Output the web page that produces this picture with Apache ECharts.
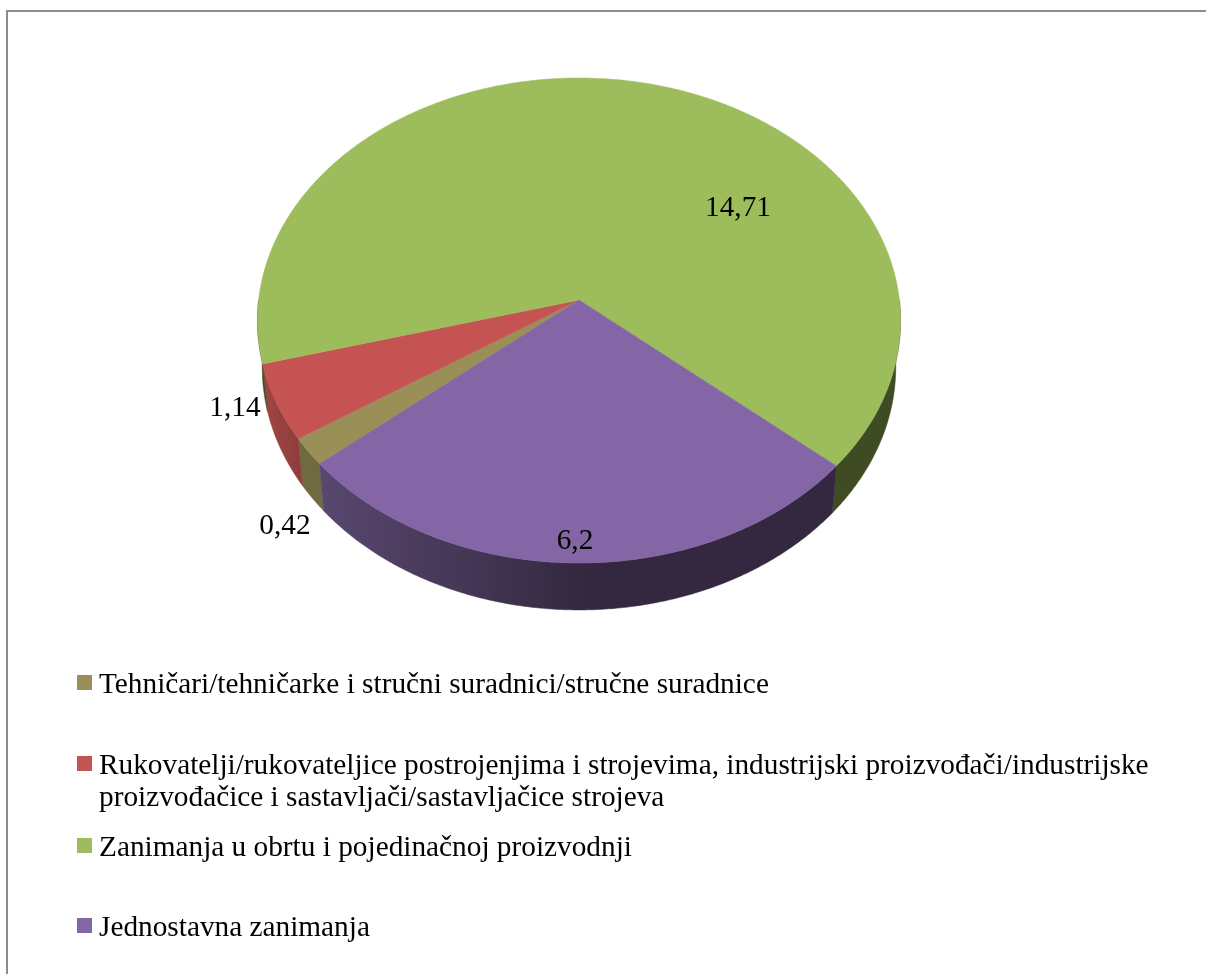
<!DOCTYPE html>
<html>
<head>
<meta charset="utf-8">
<title>Zanimanja</title>
<script src="https://cdn.jsdelivr.net/npm/echarts@6/dist/echarts.min.js"></script>
<style>
  html, body { margin: 0; padding: 0; background: #fff; }
  #chart { width: 1206px; height: 974px; }
</style>
</head>
<body>
<div id="chart"></div>
<script>
// data, in legend order (clockwise from the first slice)
const categories = [
  "Tehničari/tehničarke i stručni suradnici/stručne suradnice",
  "Rukovatelji/rukovateljice postrojenjima i strojevima, industrijski proizvođači/industrijske",
  "Zanimanja u obrtu i pojedinačnoj proizvodnji",
  "Jednostavna zanimanja",
];
const categoryExtraLine = [null, "proizvođačice i sastavljači/sastavljačice strojeva", null, null];
const values = [0.42, 1.14, 14.71, 6.2];
const valueLabels = ["0,42", "1,14", "14,71", "6,2"];

// look
const topColors = ["#998f57", "#c55352", "#9dbd5c", "#8465a5"];
const FONT = "'Liberation Serif', 'Times New Roman', serif";
const FONT_SIZE = 29.3;
const labelAnchors = [[285, 526], [235, 408], [738, 208], [575, 541]];
const legendRows = [682, 763, 845, 925];

// a grid is not needed here: the pie is a flat disc seen in perspective
const CX = 579, CY = 300;
const RX = 320.4, RY = 240.8;
const PERSP = -0.0845;
const DEPTH = 47.6, DEPTH_SHRINK = 0.015;
const FIRST_ANGLE = 139.95; // degrees, clockwise from east

const wallFills = [
  "#6f6a3f",
  { type: "linear", x: 262, y: 0, x2: 305, y2: 0, global: true,
    colorStops: [{ offset: 0, color: "#a04644" }, { offset: 1, color: "#8c3c3a" }] },
  "#3f4b22",
  { type: "linear", x: 322, y: 0, x2: 590, y2: 0, global: true,
    colorStops: [{ offset: 0, color: "#58476f" }, { offset: 1, color: "#33283f" }] },
];

const total = values.reduce((a, b) => a + b, 0);

// project a point of the disc (r in 0..1) to the screen, lifted = top face
const project = (deg, r, lifted) => {
  const a = (deg * Math.PI) / 180;
  const x = r * Math.cos(a), y = r * Math.sin(a);
  const w = 1 + PERSP * y + (lifted ? 0 : DEPTH_SHRINK);
  return [CX + (RX * x) / w, CY + (RY * y + (lifted ? 0 : DEPTH)) / w];
};

const startOf = (idx) =>
  FIRST_ANGLE + (values.slice(0, idx).reduce((a, b) => a + b, 0) / total) * 360;

const arc = (from, to, lifted) => {
  const pts = [];
  const steps = Math.max(4, Math.ceil((to - from) * 2));
  for (let i = 0; i <= steps; i++) {
    pts.push(project(from + ((to - from) * i) / steps, 1, lifted));
  }
  return pts;
};

// only the front half of the rim is ever seen
const frontRanges = (from, to) =>
  [[0, 180], [360, 540]]
    .map(([a, b]) => [Math.max(from, a), Math.min(to, b)])
    .filter(([a, b]) => b > a);

const makeSeries = (name, idx) => ({
  name,
  type: "custom",
  coordinateSystem: "none",
  silent: true,
  itemStyle: { color: topColors[idx] },
  data: [[values[idx]]],
  renderItem: (params, api) => {
    const from = startOf(idx);
    const to = from + (api.value(0) / total) * 360;
    const walls = frontRanges(from, to).map(([a, b]) => ({
      type: "polygon",
      z2: 1,
      shape: { points: arc(a, b, true).concat(arc(a, b, false).reverse()) },
      style: { fill: wallFills[idx], stroke: wallFills[idx], lineWidth: 0.5 },
    }));
    return {
      type: "group",
      children: [
        ...walls,
        {
          type: "polygon",
          z2: 2,
          shape: { points: [project(0, 0, true)].concat(arc(from, to, true)) },
          style: { fill: topColors[idx], stroke: topColors[idx], lineWidth: 0.5 },
        },
        {
          type: "text",
          z2: 3,
          style: {
            text: valueLabels[idx],
            x: labelAnchors[idx][0],
            y: labelAnchors[idx][1],
            fill: "#000",
            font: `${FONT_SIZE}px ${FONT}`,
            align: "center",
            verticalAlign: "middle",
          },
        },
      ],
    };
  },
});

const chart = echarts.init(document.getElementById("chart"), null, { renderer: "canvas" });

const frame = { stroke: "#8c8c8c", lineWidth: 2 };

chart.setOption({
  animation: false,
  backgroundColor: "#ffffff",
  legend: categories.map((name, i) => ({
    data: [name],
    left: 77,
    top: legendRows[i] - 11.5,
    padding: 0,
    orient: "vertical",
    icon: "rect",
    itemWidth: 15,
    itemHeight: 15,
    selectedMode: false,
    // rich text so the words can sit a little lower than the square
    formatter: (n) => `{a|${n}}`,
    textStyle: {
      padding: [0, 0, 0, 2],
      rich: {
        a: {
          color: "#000",
          fontFamily: FONT,
          fontSize: FONT_SIZE,
          lineHeight: 34,
          verticalAlign: "bottom",
        },
      },
    },
  })),
  graphic: [
    { type: "line", shape: { x1: 7, y1: 11, x2: 1206, y2: 11 }, style: frame, silent: true },
    { type: "line", shape: { x1: 7, y1: 10, x2: 7, y2: 974 }, style: frame, silent: true },
    ...categoryExtraLine.map((line, i) => line && ({
      type: "text",
      silent: true,
      style: {
        text: line,
        x: 99,
        y: legendRows[i] + 35,
        fill: "#000",
        font: `${FONT_SIZE}px ${FONT}`,
        verticalAlign: "middle",
      },
    })).filter(Boolean),
  ],
  series: categories.map(makeSeries),
});

window.addEventListener("resize", () => chart.resize());
</script>
</body>
</html>
